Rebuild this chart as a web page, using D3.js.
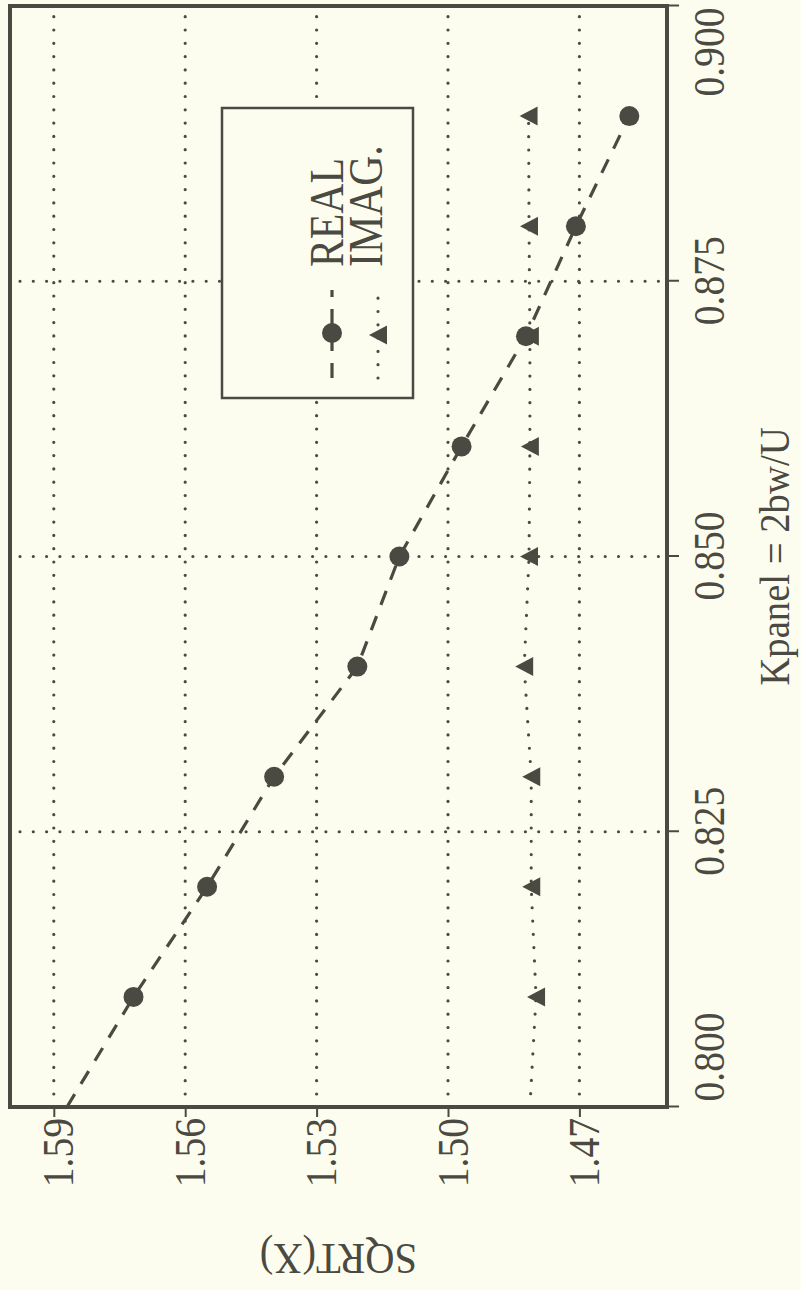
<!DOCTYPE html>
<html>
<head>
<meta charset="utf-8">
<script src="https://cdn.jsdelivr.net/npm/d3@7"></script>
<style>
  html, body { margin: 0; padding: 0; background: #fdfdef; }
  svg { display: block; }
  text { font-family: "Liberation Serif", "Times New Roman", serif; fill: #4a4a42; }
</style>
</head>
<body>
<div id="chart"></div>
<script>
// ---- data ----
const kValues    = [0.800, 0.810, 0.820, 0.830, 0.840, 0.850, 0.860, 0.870, 0.880, 0.890];
const realValues = [1.5870, 1.5718, 1.5550, 1.5397, 1.5207, 1.5111, 1.4969, 1.4822, 1.4708, 1.4586];
const imagValues = [1.4813, 1.4799, 1.4810, 1.4810, 1.4826, 1.4815, 1.4813, 1.4813, 1.4815, 1.4816];
const xTicks = [0.800, 0.825, 0.850, 0.875, 0.900];
const yTicks = [1.59, 1.56, 1.53, 1.50, 1.47];
const xGrid  = [0.825, 0.850, 0.875];
const xDomain = [0.8, 0.9];
const yDomain = [1.60, 1.45];
const seriesNames = ["REAL", "IMAG."];
const xTitle = "Kpanel = 2bw/U";
const yTitle = "SQRT(X)";

// ---- layout ----
const W = 801, H = 1290;
const ink = "#4a4a42";
const svg = d3.select("#chart").append("svg").attr("width", W).attr("height", H);
svg.append("rect").attr("width", W).attr("height", H).attr("fill", "#fdfdef");

// whole chart drawn in its natural orientation, then turned a quarter left
const g = svg.append("g").attr("transform", `translate(0,${H}) rotate(-90)`);

const x = d3.scaleLinear().domain(xDomain).range([183, 1284]);
const y = d3.scaleLinear().domain(yDomain).range([10, 667]);
const [x0, x1] = x.range(), [y0, y1] = y.range();

const dotStyle = sel => sel.attr("stroke", ink).attr("stroke-width", 3.2)
  .attr("stroke-linecap", "round").attr("stroke-dasharray", "0,13.3").attr("fill", "none");

// grid
g.append("g").selectAll("line").data(yTicks).join("line")
  .attr("x1", x0).attr("x2", x1).attr("y1", d => y(d)).attr("y2", d => y(d))
  .call(dotStyle).attr("stroke-dashoffset", -13);
g.append("g").selectAll("line").data(xGrid).join("line")
  .attr("x1", d => x(d)).attr("x2", d => x(d)).attr("y1", y0).attr("y2", y1)
  .call(dotStyle).attr("stroke-dashoffset", -10);

// axes
const xAxis = g.append("g").attr("transform", `translate(0,${y1})`)
  .call(d3.axisBottom(x).tickValues(xTicks).tickSize(12).tickFormat(d3.format(".3f")));
const yAxis = g.append("g").attr("transform", `translate(${x0},0)`)
  .call(d3.axisLeft(y).tickValues(yTicks).tickSize(10).tickFormat(d3.format(".2f")));
[xAxis, yAxis].forEach(a => {
  a.select(".domain").remove();
  a.selectAll(".tick line").attr("stroke", ink).attr("stroke-width", 2);
  a.selectAll(".tick text").attr("fill", ink).style("font-family", '"Liberation Serif", serif')
    .attr("font-size", 45);
});
xAxis.selectAll(".tick text")
  .attr("dy", 0).attr("y", 57)
  .attr("text-anchor", (d, i) => i === 0 ? "start" : (i === xTicks.length - 1 ? "end" : "middle"))
  .attr("x", (d, i) => i === 0 ? 5 / 0.88 : (i === xTicks.length - 1 ? -2 / 0.88 : 0))
  .attr("transform", "scale(0.88,1)");
yAxis.selectAll(".tick text")
  .attr("dy", 0).attr("y", 19).attr("x", -11 / 0.88)
  .attr("text-anchor", "end")
  .attr("transform", "scale(0.88,1)");

// series lines
const line = d3.line().x(d => x(d[0])).y(d => y(d[1]));
const realPts = kValues.map((k, i) => [k, realValues[i]]);
const imagPts = kValues.map((k, i) => [k, imagValues[i]]);
g.append("path").attr("d", line(realPts)).attr("fill", "none").attr("stroke", ink)
  .attr("stroke-width", 3.2).attr("stroke-dasharray", "15,12");
g.append("path").attr("d", line(imagPts)).call(dotStyle);

// markers (none drawn at the first sample, on the frame)
const tri = "M-9.5,9L9.5,9L0,-9Z";
g.append("g").selectAll("circle").data(realPts.slice(1)).join("circle")
  .attr("cx", d => x(d[0])).attr("cy", d => y(d[1])).attr("r", 10).attr("fill", ink);
g.append("g").selectAll("path").data(imagPts.slice(1)).join("path")
  .attr("d", tri).attr("transform", d => `translate(${x(d[0])},${y(d[1])})`).attr("fill", ink);

// frame
g.append("rect").attr("x", x0).attr("y", y0).attr("width", x1 - x0).attr("height", y1 - y0)
  .attr("fill", "none").attr("stroke", ink).attr("stroke-width", 4);

// legend
const lg = g.append("g");
lg.append("rect").attr("x", 892).attr("y", 222).attr("width", 290).attr("height", 191)
  .attr("fill", "#fdfdef").attr("stroke", ink).attr("stroke-width", 2.5);
const rows = [{ name: seriesNames[0], cy: 332, ty: 343, kind: "real" },
              { name: seriesNames[1], cy: 378, ty: 382, kind: "imag" }];
rows.forEach(r => {
  const l = lg.append("line").attr("x1", 912).attr("x2", 1000).attr("y1", r.cy).attr("y2", r.cy);
  if (r.kind === "real") {
    l.attr("stroke", ink).attr("stroke-width", 3.2).attr("stroke-dasharray", "15,12");
    lg.append("circle").attr("cx", 957).attr("cy", r.cy).attr("r", 10).attr("fill", ink);
  } else {
    l.call(dotStyle);
    lg.append("path").attr("d", tri).attr("transform", `translate(955,${r.cy})`).attr("fill", ink);
  }
  lg.append("g").attr("transform", `translate(1023,${r.ty})`)
    .append("text").attr("transform", "scale(0.87,1)").attr("font-size", 48).text(r.name);
});

// titles
g.append("g").attr("transform", `translate(${(x0 + x1) / 2},789)`)
  .append("text").attr("text-anchor", "middle").attr("transform", "scale(0.9,1)")
  .attr("font-size", 43).text(xTitle);
g.append("g").attr("transform", `translate(46,${(y0 + y1) / 2}) rotate(-90)`)
  .append("text").attr("text-anchor", "middle").attr("transform", "scale(0.92,1)")
  .attr("font-size", 44).text(yTitle);
</script>
</body>
</html>
